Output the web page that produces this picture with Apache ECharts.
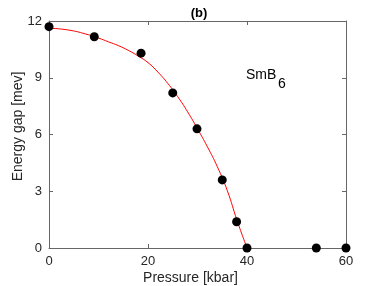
<!DOCTYPE html>
<html><head><meta charset="utf-8">
<script src="https://cdn.jsdelivr.net/npm/echarts@6/dist/echarts.min.js"></script>
<style>html,body{margin:0;padding:0;background:#fff}#c{width:382px;height:286px}</style>
</head><body><div id="c"></div>
<script>
const pressure = [0, 9.15, 18.6, 25.0, 29.9, 35.0, 37.9, 40.0, 54.0, 60.0];
const gap = [11.7, 11.17, 10.3, 8.2, 6.3, 3.6, 1.39, 0, 0, 0];
const fitP = [0, 4, 8, 10, 12, 14, 16, 18, 20, 22, 24, 26, 28, 30, 32, 34, 36, 38, 40];
const fitGap = [11.62, 11.52, 11.27, 11.1, 10.9, 10.7, 10.45, 10.15, 9.8, 9.3, 8.7, 8.0, 7.2, 6.3, 5.35, 4.3, 3.05, 1.45, 0];
const xTicks = [0, 20, 40, 60];
const yTicks = [0, 3, 6, 9, 12];

const font = 'Liberation Sans, Arial, sans-serif';
const axCol = '#666';
const txtCol = '#262626';
const chart = echarts.init(document.getElementById('c'));
const axisBase = {
  axisLine: {show: true, onZero: false, lineStyle: {color: axCol, width: 1}},
  axisTick: {show: true, inside: true, length: 4, lineStyle: {color: axCol}},
  splitLine: {show: false}
};
chart.setOption({
  animation: false,
  backgroundColor: '#fff',
  title: {text: '(b)', left: 194, top: 2, textAlign: 'center',
    textStyle: {fontFamily: font, fontSize: 13, fontWeight: 'bold', color: '#000'}},
  grid: {left: 49, right: 36, top: 21, bottom: 38, containLabel: false, outerBoundsMode: 'none'},
  xAxis: [
    Object.assign({type: 'value', min: 0, max: 60, interval: 20, position: 'bottom',
      name: 'Pressure [kbar]', nameLocation: 'middle', nameGap: 23, nameMoveOverlap: false,
      nameTextStyle: {fontFamily: font, fontSize: 14, color: txtCol, padding: [0, 14, 0, 0]},
      axisLabel: {fontFamily: font, fontSize: 13, color: txtCol, margin: 7}}, axisBase),
    Object.assign({type: 'value', min: 0, max: 60, interval: 20, position: 'top',
      axisLabel: {show: false}}, axisBase)
  ],
  yAxis: [
    Object.assign({type: 'value', min: 0, max: 12, interval: 3, position: 'left',
      name: 'Energy gap [mev]', nameLocation: 'middle', nameGap: 24, nameMoveOverlap: false,
      nameTextStyle: {fontFamily: font, fontSize: 14, color: txtCol, padding: [0, 0, 0, 16]},
      axisLabel: {fontFamily: font, fontSize: 13, color: txtCol, margin: 7}}, axisBase),
    Object.assign({type: 'value', min: 0, max: 12, interval: 3, position: 'right',
      axisLabel: {show: false}}, axisBase)
  ],
  series: [
    {type: 'line', data: fitP.map((p, i) => [p, fitGap[i]]), smooth: true, symbol: 'none',
      lineStyle: {color: '#ff0000', width: 1}, z: 2},
    {type: 'scatter', data: pressure.map((p, i) => [p, gap[i]]), symbolSize: 9,
      itemStyle: {color: '#000', opacity: 1}, z: 3}
  ],
  graphic: [
    {type: 'text', left: 246, top: 68, style: {text: 'SmB', font: '14px ' + font, fill: '#000'}},
    {type: 'text', left: 278, top: 77, style: {text: '6', font: '14px ' + font, fill: '#000'}}
  ]
});
</script></body></html>
